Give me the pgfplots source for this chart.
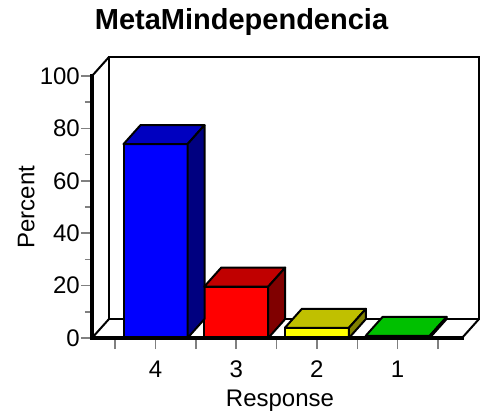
\documentclass[border=0pt]{standalone}
\usepackage{pgfplots}
\pgfplotsset{compat=1.18}
\usepackage{fontspec}
\setmainfont{Liberation Sans}

\definecolor{bfront}{HTML}{0000FF}
\definecolor{btop}{HTML}{0000C0}
\definecolor{bside}{HTML}{000080}
\definecolor{rfront}{HTML}{FF0000}
\definecolor{rtop}{HTML}{C00000}
\definecolor{rside}{HTML}{800000}
\definecolor{yfront}{HTML}{FFFF00}
\definecolor{ytop}{HTML}{C0C000}
\definecolor{yside}{HTML}{808000}
\definecolor{gfront}{HTML}{00FF00}
\definecolor{gtop}{HTML}{00C000}
\definecolor{gside}{HTML}{008000}

% top and side faces of a bar, drawn from the bar's top front centre
\pgfplotsset{
  box3d/.style 2 args={
    only marks, mark=*, mark size=0pt, scatter, forget plot,
    visualization depends on={rawy \as \hval},
    scatter/@pre marker code/.append code={
      \filldraw[fill=#1, draw=black, line width=2bp, line join=round]
        (-32bp,0pt) -- (32bp,0pt) -- (49bp,19bp) -- (-15bp,19bp) -- cycle;
      \filldraw[fill=#2, draw=black, line width=2bp, line join=round]
        (32bp,0pt) -- (49bp,19bp) -- (49bp,{19bp-2.62bp*\hval}) -- (32bp,{-2.62bp*\hval}) -- cycle;
    },
  },
  front/.style={ybar, bar width=64bp, bar shift=0pt, fill=#1, draw=black, line width=2bp},
}

\begin{document}
\begin{tikzpicture}
\useasboundingbox (0,0) rectangle (488bp,-413bp);
\begin{axis}[
    at={(92bp,-338bp)}, anchor=south west,
    x=80.7bp, y=2.62bp,
    xmin=-0.787, xmax=3.798, ymin=0, ymax=100,
    clip=false,
    axis on top,
    axis x line*=bottom, axis y line*=left,
    axis line style={-, line width=4bp, line cap=rect},
    xtick={-0.5,0,0.5,1,1.5,2,2.5,3,3.5},
    xticklabels={,4,,3,,2,,1,},
    ytick={0,20,40,60,80,100},
    minor ytick={10,30,50,70,90},
    tick align=outside,
    major tick length=11bp, minor tick length=7bp,
    every tick/.style={gray, line width=1.5bp},
    /pgf/number format/assume math mode=true,
    tick label style={font=\fontsize{24bp}{28bp}\selectfont},
    yticklabel style={inner sep=1bp},
    xticklabel style={inner sep=1bp, yshift=-11bp},
    label style={font=\fontsize{24bp}{28bp}\selectfont},
    ylabel={Percent},
    ylabel style={at={(axis description cs:-0.178,0.5)}, anchor=center},
    xlabel={Response},
    xlabel style={at={(axis description cs:0.508,-0.263)}, anchor=base},
    title={MetaMindependencia},
    title style={at={(axis description cs:0.404,1.156)}, anchor=base,
      font=\bfseries\fontsize{29bp}{34bp}\selectfont},
]
% back wall, floor and left wall edges
\draw[line width=2bp] ([shift={(17bp,19bp)}]axis cs:-0.787,0) rectangle ([shift={(17bp,19bp)}]axis cs:3.798,100);
\draw[line width=2bp] (axis cs:-0.787,100) -- ++(17bp,19bp);
\draw[line width=2bp] (axis cs:-0.787,0) -- ++(17bp,19bp);
\draw[line width=2bp] (axis cs:3.798,0) -- ++(17bp,19bp);

\addplot[front=bfront] coordinates {(0,74)};
\addplot[box3d={btop}{bside}] coordinates {(0,74)};
\addplot[front=rfront] coordinates {(1,19.6)};
\addplot[box3d={rtop}{rside}] coordinates {(1,19.6)};
\addplot[front=yfront] coordinates {(2,3.9)};
\addplot[box3d={ytop}{yside}] coordinates {(2,3.9)};
\addplot[front=gfront] coordinates {(3,0.8)};
\addplot[box3d={gtop}{gside}] coordinates {(3,0.8)};
\end{axis}
\end{tikzpicture}
\end{document}
